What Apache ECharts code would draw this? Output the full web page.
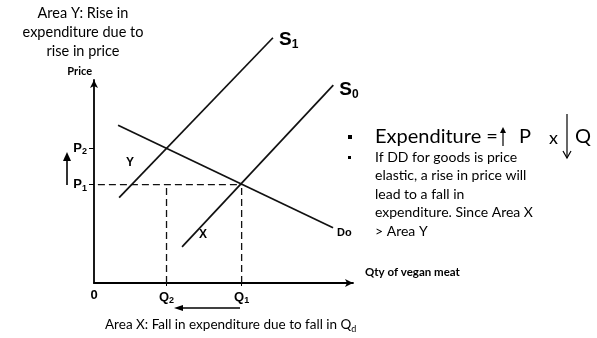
<!DOCTYPE html>
<html>
<head>
<meta charset="utf-8">
<script src="https://cdn.jsdelivr.net/npm/echarts@6/dist/echarts.min.js"></script>
<style>
html,body{margin:0;padding:0;background:#fff;}
#chart{width:597px;height:338px;}
</style>
</head>
<body>
<div id="chart"></div>
<script>
// ---- data (axis units: quantity 0-100, price 0-100) ----
var qtyTicks = [0, 28, 57];
var qtyLabels = ['0', 'Q|2', 'Q|1'];
var priceTicks = [48.5, 66.3];
var priceLabels = ['P|1', 'P|2'];
var supplyS1 = [[9.7, 42.1], [69.1, 120.8]];
var supplyS0 = [[34, 17.8], [92.4, 97.5]];
var demandD0 = [[9.3, 77.7], [92.3, 27.2]];
var dashP1 = [[1.5, 48.5], [57, 48.5]];
var dashQ2 = [[28, 0], [28, 48.5]];
var dashQ1 = [[57, 0], [57, 48.5]];

var FONT = 'Lato, "Open Sans", sans-serif';
var ARIAL = 'Arial, "Liberation Sans", sans-serif';
function sub(lbl) {
  var p = lbl.split('|');
  return p.length > 1 ? '{m|' + p[0] + '}{s|' + p[1] + '}' : '{m|' + p[0] + '}';
}
var subRich = {
  m: {fontSize: 13, fontWeight: 'bold', color: '#000', fontFamily: ARIAL},
  s: {fontSize: 9, fontWeight: 'bold', color: '#000', verticalAlign: 'bottom', padding: [7, 0, 0, 0], fontFamily: ARIAL}
};

var chart = echarts.init(document.getElementById('chart'), null, {renderer: 'canvas'});

function lineSeries(name, data, dashed, labelText, labelOffset, labelRich) {
  var s = {
    name: name,
    type: 'line',
    data: data,
    symbol: 'none',
    clip: false,
    silent: true,
    animation: false,
    lineStyle: {color: '#111', width: dashed ? 1.3 : 1.7, type: dashed ? [7, 4] : 'solid'}
  };
  if (labelText) {
    s.endLabel = {show: true, formatter: labelText, offset: labelOffset, distance: 4, rich: labelRich};
  }
  return s;
}

var supRich = {
  a: {fontSize: 19, fontWeight: 'bold', color: '#000', fontFamily: ARIAL},
  b: {fontSize: 12, fontWeight: 'bold', color: '#000', verticalAlign: 'bottom', padding: [10, 0, 0, 0], fontFamily: ARIAL}
};
var doRich = {
  a: {fontSize: 11, fontWeight: 'bold', color: '#000', fontFamily: ARIAL}
};

var option = {
  backgroundColor: '#fff',
  animation: false,
  grid: {left: 94, right: 244, top: 80, bottom: 55, containLabel: false},
  xAxis: {
    type: 'value', min: 0, max: 100,
    name: 'Qty of vegan meat', nameLocation: 'end', nameGap: 12,
    nameTextStyle: {fontSize: 11.5, fontWeight: 'bold', color: '#000', verticalAlign: 'bottom', padding: [0, 0, 5, 0], fontFamily: FONT},
    splitLine: {show: false},
    axisLine: {show: true, lineStyle: {color: '#000', width: 1.8}, symbol: ['none', 'arrow'], symbolSize: [6, 8]},
    axisTick: {show: true, customValues: qtyTicks.slice(1), inside: false, length: 3, lineStyle: {color: '#000'}},
    axisLabel: {
      show: true, customValues: qtyTicks, margin: 6,
      formatter: function (v) { var i = qtyTicks.indexOf(v); return i < 0 ? '' : sub(qtyLabels[i]); },
      rich: subRich
    }
  },
  yAxis: {
    type: 'value', min: 0, max: 100,
    name: 'Price', nameLocation: 'end', nameGap: 3,
    nameTextStyle: {fontSize: 11, fontWeight: 'bold', color: '#000', align: 'right', padding: [0, 2, 0, 0], fontFamily: FONT},
    splitLine: {show: false},
    axisLine: {show: true, lineStyle: {color: '#000', width: 1.8}, symbol: ['none', 'arrow'], symbolSize: [6, 8]},
    axisTick: {show: true, customValues: priceTicks, length: 5, lineStyle: {color: '#000'}},
    axisLabel: {
      show: true, customValues: priceTicks, margin: 7,
      formatter: function (v) { var i = priceTicks.indexOf(v); return i < 0 ? '' : sub(priceLabels[i]); },
      rich: subRich
    }
  },
  series: [
    lineSeries('S1', supplyS1, false, '{a|S}{b|1}', [2, 2], supRich),
    lineSeries('S0', supplyS0, false, '{a|S}{b|0}', [2, 5], supRich),
    lineSeries('Do', demandD0, false, '{a|Do}', [0, 5], doRich),
    lineSeries('p1', dashP1, true),
    lineSeries('q2', dashQ2, true),
    lineSeries('q1', dashQ1, true)
  ],
  graphic: [
    // top-left note
    {type: 'text', x: 83, y: 32, style: {text: 'Area Y: Rise in\nexpenditure due to\nrise in price', fill: '#000', font: '14.5px ' + FONT, align: 'center', verticalAlign: 'middle', lineHeight: 19}},
    // area labels
    {type: 'text', x: 130, y: 163, style: {text: 'Y', fill: '#000', font: 'bold 12px Arial, sans-serif', align: 'center', verticalAlign: 'middle'}},
    {type: 'text', x: 203, y: 235, style: {text: 'X', fill: '#000', font: 'bold 12px Arial, sans-serif', align: 'center', verticalAlign: 'middle'}},
    // price up arrow
    {type: 'line', shape: {x1: 67, y1: 185, x2: 67, y2: 158}, style: {stroke: '#000', lineWidth: 1.6}},
    {type: 'polygon', shape: {points: [[63, 161], [67, 152], [71, 161]]}, style: {fill: '#000'}},
    // quantity left arrow
    {type: 'line', shape: {x1: 240, y1: 308, x2: 180, y2: 308}, style: {stroke: '#000', lineWidth: 1.6}},
    {type: 'polygon', shape: {points: [[183, 305], [174, 308], [183, 311]]}, style: {fill: '#000'}},
    // bottom note
    {type: 'text', x: 105, y: 325, style: {
      text: '{t|Area X: Fall in expenditure due to fall in Q}{d|d}', verticalAlign: 'middle', align: 'left',
      rich: {t: {fontSize: 13.5, fontFamily: FONT, fill: '#000'}, d: {fontSize: 9, fontFamily: FONT, fill: '#000', verticalAlign: 'bottom', padding: [8, 0, 0, 0]}}
    }},
    // right bullets
    {type: 'rect', shape: {x: 348, y: 135, width: 4, height: 4}, style: {fill: '#000'}},
    {type: 'rect', shape: {x: 348, y: 156, width: 3, height: 3}, style: {fill: '#000'}},
    {type: 'text', x: 375, y: 137, style: {text: 'Expenditure =', fill: '#000', font: '20px ' + FONT, verticalAlign: 'middle'}},
    {type: 'line', shape: {x1: 503, y1: 146, x2: 503, y2: 131}, style: {stroke: '#000', lineWidth: 1.2}},
    {type: 'polygon', shape: {points: [[500, 133], [503, 127], [506, 133]]}, style: {fill: '#000'}},
    {type: 'text', x: 519, y: 137, style: {text: 'P', fill: '#000', font: '20px ' + FONT, verticalAlign: 'middle'}},
    {type: 'text', x: 549, y: 138, style: {text: 'x', fill: '#000', font: '18px ' + FONT, verticalAlign: 'middle'}},
    {type: 'line', shape: {x1: 567, y1: 114, x2: 567, y2: 158}, style: {stroke: '#000', lineWidth: 1.2}},
    {type: 'polyline', shape: {points: [[563, 151], [567, 158], [571, 151]]}, style: {stroke: '#000', lineWidth: 1.2, fill: null}},
    {type: 'text', x: 575, y: 137, style: {text: 'Q', fill: '#000', font: '20px ' + FONT, verticalAlign: 'middle'}},
    {type: 'text', x: 375, y: 148, style: {
      text: 'If DD for goods is price\nelastic, a rise in price will\nlead to a fall in\nexpenditure. Since Area X\n> Area Y',
      fill: '#000', font: '14px ' + FONT, verticalAlign: 'top', lineHeight: 18.5
    }}
  ]
};
chart.setOption(option);
</script>
</body>
</html>
